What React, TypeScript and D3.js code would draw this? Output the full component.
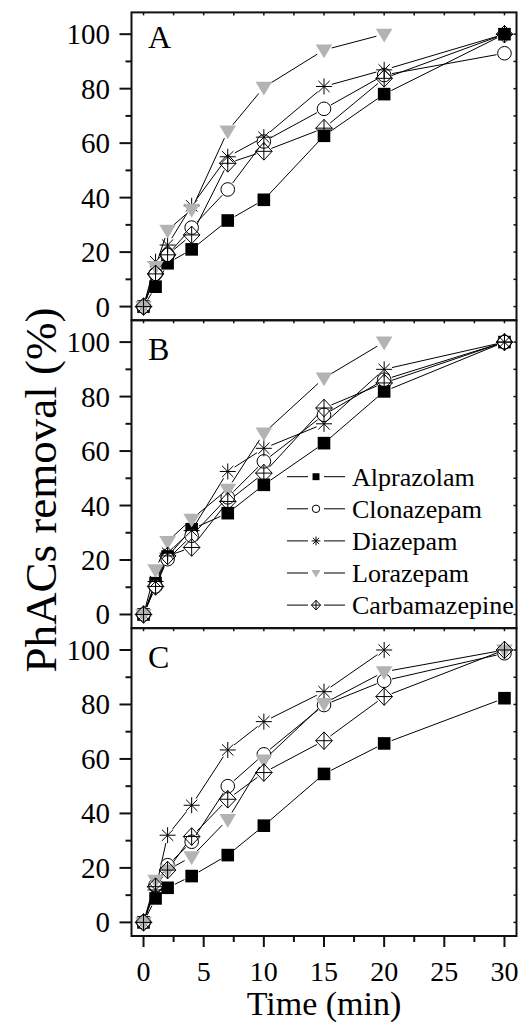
import React from "react";
import * as d3 from "d3";

const times = [0, 1, 2, 4, 7, 10, 15, 20, 30];
const seriesNames = ["Alprazolam", "Clonazepam", "Diazepam", "Lorazepam", "Carbamazepine"];
const panelLabels = ["A", "B", "C"];
const xTicks = [0, 5, 10, 15, 20, 25, 30];
const yTicks = [0, 20, 40, 60, 80, 100];

// Panel A
const alpA = [0, 7.3, 15.9, 21, 31.6, 39.2, 62.7, 78, 100];
const cloA = [0, 12, 19, 29, 43, 60.6, 72.6, 85, 93];
const diaA = [0, 16.5, 22.6, 37, 55, 62.2, 80.8, 86.9, 100];
const lorA = [0, 14.7, 28, 35.7, 64.5, 80.5, 94.2, 100, null];
const carA = [0, 12, 19, 26.3, 52.6, 57, 65.5, 83.8, 100];
// Panel B
const alpB = [0, 11.5, 21.3, 31.3, 37.2, 47.6, 62.9, 81.9, 100];
const cloB = [0, 10.3, 20.3, 28.9, 43, 56.2, 73.3, 86.2, 100];
const diaB = [0, 12.1, 22.5, 30.8, 52.5, 61, 70, 90, 100];
const lorB = [0, 16.4, 26.8, 35, 46, 66.6, 86.8, 100, null];
const carB = [0, 10.3, 21.5, 24.6, 41.5, 51.9, 75.8, 85, 100];
// Panel C
const alpC = [0, 8.8, 12.7, 17, 24.7, 35.5, 54.5, 65.7, 82.3];
const cloC = [0, 13.7, 21, 29.6, 50, 61.7, 79.8, 88.7, 98.8];
const diaC = [0, 11.9, 32, 43, 63.3, 73.7, 84.7, 100, null];
const lorC = [0, 15.5, 19.2, 24.1, 37.8, 59.6, 80.4, 92, 100];
const carC = [0, 13.1, 19.2, 31.5, 45.2, 55, 66.7, 82.9, 100];

const panels = [
  [alpA, cloA, diaA, lorA, carA],
  [alpB, cloB, diaB, lorB, carB],
  [alpC, cloC, diaC, lorC, carC],
];

const W = 523;
const H = 1030;
const left = 131.5;
const right = 516.5;
const panelTops = [12.4, 320.3, 628.2];
const panelH = 307.8;
const letterBaselines = [48, 360, 668];
const FONT = "Liberation Serif";
const GRAY = "#b3b3b3";

const x = d3.scaleLinear().domain([-1, 31]).range([left, right]);

function Marker({ kind, cx, cy, s }: { kind: number; cx: number; cy: number; s: number }) {
  if (kind === 0) {
    const h = 6.3 * s;
    return <rect x={cx - h} y={cy - h} width={2 * h} height={2 * h} fill="#000" />;
  }
  if (kind === 1) {
    return <circle cx={cx} cy={cy} r={6.8 * s} fill="#fff" stroke="#000" strokeWidth={1} />;
  }
  if (kind === 2) {
    const r = 8 * s;
    const d = r * Math.SQRT1_2;
    const p = d3.path();
    p.moveTo(cx - r, cy); p.lineTo(cx + r, cy);
    p.moveTo(cx, cy - r); p.lineTo(cx, cy + r);
    p.moveTo(cx - d, cy - d); p.lineTo(cx + d, cy + d);
    p.moveTo(cx - d, cy + d); p.lineTo(cx + d, cy - d);
    return <path d={p.toString()} stroke="#000" strokeWidth={1} fill="none" />;
  }
  if (kind === 3) {
    const w = 8.3 * s;
    const p = d3.path();
    p.moveTo(cx - w, cy - 5.5 * s);
    p.lineTo(cx + w, cy - 5.5 * s);
    p.lineTo(cx, cy + 8.3 * s);
    p.closePath();
    return <path d={p.toString()} fill={GRAY} />;
  }
  const a = 8.3 * s;
  const b = 8.8 * s;
  const p = d3.path();
  p.moveTo(cx, cy - b); p.lineTo(cx + a, cy); p.lineTo(cx, cy + b); p.lineTo(cx - a, cy); p.closePath();
  p.moveTo(cx - a, cy); p.lineTo(cx + a, cy);
  p.moveTo(cx, cy - b); p.lineTo(cx, cy + b);
  return <path d={p.toString()} fill="none" stroke="#000" strokeWidth={1} />;
}

function gapSegments(pts: [number, number][], gap: number) {
  const out: string[] = [];
  for (let i = 0; i < pts.length - 1; i++) {
    const [x1, y1] = pts[i];
    const [x2, y2] = pts[i + 1];
    const dx = x2 - x1, dy = y2 - y1;
    const L = Math.hypot(dx, dy);
    if (L <= 2 * gap + 1) continue;
    const ux = dx / L, uy = dy / L;
    out.push(`M${x1 + ux * gap},${y1 + uy * gap}L${x2 - ux * gap},${y2 - uy * gap}`);
  }
  return out.join("");
}

function Panel({ idx }: { idx: number }) {
  const top = panelTops[idx];
  const y = d3.scaleLinear().domain([-5, 108]).range([top + panelH, top]);
  const data = panels[idx];
  const isBottom = idx === 2;
  const minorY = d3.range(10, 101, 20);
  const allY = d3.range(0, 101, 10);
  const topTicks = d3.range(0, 30.01, 2.5);
  return (
    <g>
      {data.map((vals, si) => {
        const pts: [number, number][] = [];
        vals.forEach((v, i) => {
          if (v !== null && v !== undefined) pts.push([x(times[i]), y(v as number)]);
        });
        return <path key={"l" + si} d={gapSegments(pts, 8)} stroke="#000" strokeWidth={1} fill="none" />;
      })}
      {data.map((vals, si) =>
        vals.map((v, i) =>
          v === null || v === undefined ? null : (
            <Marker key={`m${si}-${i}`} kind={si} cx={x(times[i])} cy={y(v as number)} s={1} />
          )
        )
      )}
      <rect x={left} y={top} width={right - left} height={panelH} fill="none" stroke="#111" strokeWidth={2} />
      {yTicks.map((t) => (
        <line key={"yt" + t} x1={left - 12} x2={left} y1={y(t)} y2={y(t)} stroke="#111" strokeWidth={2} />
      ))}
      {minorY.map((t) => (
        <line key={"ym" + t} x1={left - 6} x2={left} y1={y(t)} y2={y(t)} stroke="#111" strokeWidth={2} />
      ))}
      {allY.map((t) => (
        <line key={"yr" + t} x1={right - 3} x2={right} y1={y(t)} y2={y(t)} stroke="#111" strokeWidth={1.5} />
      ))}
      {topTicks.map((t) => (
        <line key={"xt" + t} x1={x(t)} x2={x(t)} y1={top} y2={top + 3} stroke="#111" strokeWidth={1.5} />
      ))}
      {yTicks.map((t) => (
        <text key={"yl" + t} x={110} y={y(t) + 10} textAnchor="end" fontFamily={FONT} fontSize={29} fill="#000">
          {t}
        </text>
      ))}
      <text x={148} y={letterBaselines[idx]} fontFamily={FONT} fontSize={32} fill="#000">
        {panelLabels[idx]}
      </text>
      {isBottom && (
        <g>
          {xTicks.map((t) => (
            <line key={"xb" + t} x1={x(t)} x2={x(t)} y1={top + panelH} y2={top + panelH + 11} stroke="#111" strokeWidth={2} />
          ))}
          {d3.range(2.5, 30, 5).map((t) => (
            <line key={"xbm" + t} x1={x(t)} x2={x(t)} y1={top + panelH} y2={top + panelH + 6} stroke="#111" strokeWidth={2} />
          ))}
          {xTicks.map((t) => (
            <text key={"xl" + t} x={x(t)} y={981} textAnchor="middle" fontFamily={FONT} fontSize={28} fill="#000">
              {t}
            </text>
          ))}
        </g>
      )}
    </g>
  );
}

function Legend() {
  const cy0 = 476.7;
  const step = 32.1;
  return (
    <g>
      {seriesNames.map((name, i) => {
        const cy = cy0 + i * step;
        return (
          <g key={name}>
            <line x1={287} x2={308} y1={cy} y2={cy} stroke="#000" strokeWidth={1} />
            <line x1={324} x2={345} y1={cy} y2={cy} stroke="#000" strokeWidth={1} />
            <Marker kind={i} cx={316} cy={cy} s={0.55} />
            <text x={352} y={cy + 9} fontFamily={FONT} fontSize={26} fill="#000">
              {name}
            </text>
          </g>
        );
      })}
    </g>
  );
}

export default function App() {
  return (
    <svg
      width={W}
      height={H}
      viewBox={`0 0 ${W} ${H}`}
      style={{ position: "absolute", left: 0, top: 0, background: "#fff" }}
    >
      <rect x={0} y={0} width={W} height={H} fill="#fff" />
      {[0, 1, 2].map((i) => (
        <Panel key={i} idx={i} />
      ))}
      <Legend />
      <text x={324} y={1015} textAnchor="middle" fontFamily={FONT} fontSize={34} fill="#000">
        Time (min)
      </text>
      <text
        transform={`translate(56,490) rotate(-90)`}
        textAnchor="middle"
        fontFamily={FONT}
        fontSize={45}
        fill="#000"
      >
        PhACs removal (%)
      </text>
    </svg>
  );
}
